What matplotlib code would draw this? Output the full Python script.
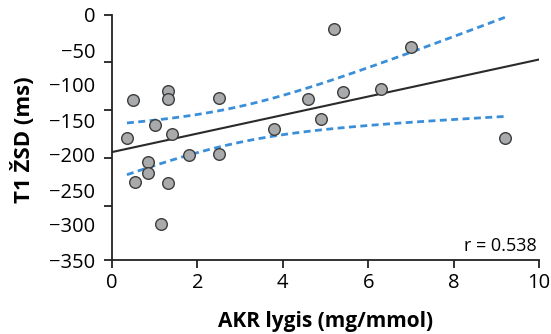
import numpy as np
import matplotlib
matplotlib.use("Agg")
import matplotlib.pyplot as plt

plt.rcParams['font.family'] = ['Open Sans', 'DejaVu Sans']

# Data
akr = [0.35, 0.5, 0.55, 0.85, 0.85, 1.0, 1.15, 1.3, 1.3, 1.3, 1.4, 1.8,
       2.5, 2.5, 3.8, 4.6, 4.9, 5.2, 5.4, 6.3, 7.0, 9.2]
t1 = [-175, -122, -238, -210, -225, -157, -298, -108, -120, -240, -170, -200,
      -118, -198, -163, -120, -148, -20, -110, -105, -45, -175]

x_ticks = [0, 2, 4, 6, 8, 10]
y_label_vals = [0, -50, -100, -150, -200, -250, -300, -350]
y_tick_marks = [0, -67, -136, -204, -273, -350]
r_text = "r = 0.538"

x = np.array(akr, float)
y = np.array(t1, float)
n = len(x)
slope, intercept = np.polyfit(x, y, 1)
resid = y - (intercept + slope * x)
s = np.sqrt(np.sum(resid**2) / (n - 2))
xm = x.mean()
sxx = np.sum((x - xm)**2)
tval = 2.086
xb = np.linspace(x.min(), x.max(), 100)
yb = intercept + slope * xb
half = tval * s * np.sqrt(1.0 / n + (xb - xm)**2 / sxx)

fig = plt.figure(figsize=(5.51, 3.34), dpi=100)
ax = fig.add_axes([112/551, 1 - 260/334, (539-112)/551, (260-15)/334])

xl = np.array([0, 10])
ax.plot(xl, intercept + slope * xl, color='#2a2a2a', lw=1.5, zorder=2)
ax.plot(xb, yb + half, color='#3b8fd8', lw=2, ls=(0, (2.5, 1.6)), zorder=3)
ax.plot(xb, yb - half, color='#3b8fd8', lw=2, ls=(0, (2.5, 1.6)), zorder=3)
ax.scatter(x, y, s=70, facecolor='#a9aaac', edgecolor='#3c3c3c', linewidth=1.0, zorder=4)

ax.set_xlim(0, 10)
ax.set_ylim(-350, 0)
for sp in ['top', 'right']:
    ax.spines[sp].set_visible(False)
for sp in ['left', 'bottom']:
    ax.spines[sp].set_linewidth(1.3)
    ax.spines[sp].set_color('#222222')

ax.set_xticks(x_ticks)
ax.set_xticklabels([str(v) for v in x_ticks])
ax.yaxis.remove_overlapping_locs = False
ax.set_yticks(y_label_vals)
ax.set_yticklabels([str(v).replace('-', '\u2212') for v in y_label_vals])
ax.set_yticks(y_tick_marks, minor=True)
ax.tick_params(axis='x', which='major', direction='out', length=6, width=1.3,
               color='#222222', labelsize=14.5, pad=3)
ax.tick_params(axis='y', which='major', length=0, labelsize=14.5, pad=12)
ax.tick_params(axis='y', which='minor', direction='out', length=6, width=1.3,
               color='#222222')

ax.set_xlabel('AKR lygis (mg/mmol)', fontsize=15, fontweight='bold', va='center')
ax.xaxis.set_label_coords(0.5, -(321 - 260) / 245)
ax.set_ylabel('T1 ŽSD (ms)', fontsize=16, fontweight='bold', va='center')
ax.yaxis.set_label_coords((23 - 112) / 427, 0.49)
ax.text(0.995, 0.02, r_text, transform=ax.transAxes, ha='right', va='bottom', fontsize=13)

fig.savefig('out.png', dpi=100)
